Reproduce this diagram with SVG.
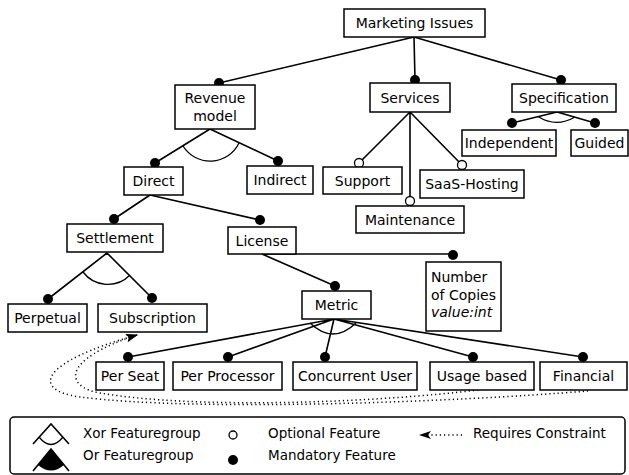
<svg xmlns="http://www.w3.org/2000/svg" width="629" height="475" viewBox="0 0 629 475">
<style>
.box{fill:#fff;stroke:#000;stroke-width:1.5}
text{font-family:"DejaVu Sans","Liberation Sans",sans-serif;font-size:14px;fill:#000}
.c{text-anchor:middle}
.ln{stroke:#000;stroke-width:1.6;fill:none}
.arc{stroke:#000;stroke-width:1.3;fill:none}
.m{fill:#000}
.o{fill:#fff;stroke:#000;stroke-width:1.3}
.req{stroke:#000;stroke-width:1.5;fill:none;stroke-dasharray:1.2 3}
.lg{font-size:13.5px}
</style>
<defs>
<marker id="arr" viewBox="0 0 12 8" refX="11" refY="4" markerWidth="12" markerHeight="8" markerUnits="userSpaceOnUse" orient="auto">
<path d="M0,0 L12,4 L0,8 L3,4 Z" fill="#000"/>
</marker>
</defs>
<rect x="0" y="0" width="629" height="475" fill="#fff"/>
<g id="connectors">
<path class="ln" d="M414,37 L219,83 M414,37 L415,80 M414,37 L561,80"/>
<path class="ln" d="M210,129 L155,163 M210,129 L278,161"/>
<path class="arc" d="M183,146 A32,32 0 0 0 239,143"/>
<path class="ln" d="M410,112 L359,163 M410,112 L410,201 M410,112 L462,165"/>
<path class="ln" d="M557,112 L512,123 M557,112 L595,123"/>
<path class="arc" d="M538,116.5 Q556,128 575,117"/>
<path class="ln" d="M150,195 L114,219 M150,195 L260,220"/>
<path class="ln" d="M107,253 L48,299 M107,253 L152,298"/>
<path class="arc" d="M83,272 A31,31 0 0 0 130,275"/>
<path class="ln" d="M262,254 L335,286 M262,254 L453,254"/>
<path class="ln" d="M334,319 L128,357 M334,319 L228,357 M334,319 L325,357 M334,319 L473,357 M334,319 L583,357"/>
<path class="arc" d="M310,323 Q333,345 356,323"/>
<path class="req" d="M588,391 C450,402 200,412 80,397 C30,390 40,362 137,335" marker-end="url(#arr)"/>
<path class="req" d="M478,390 C380,402 200,410 100,393 C65,387 60,360 137,335" marker-end="url(#arr)"/>
<circle class="m" cx="219" cy="83" r="5"/>
<circle class="m" cx="415" cy="80" r="5"/>
<circle class="m" cx="561" cy="80" r="5"/>
<circle class="m" cx="155" cy="163" r="5"/>
<circle class="m" cx="278" cy="161" r="5"/>
<circle class="m" cx="512" cy="123" r="5"/>
<circle class="m" cx="595" cy="123" r="5"/>
<circle class="o" cx="359" cy="163" r="4.5"/>
<circle class="o" cx="410" cy="201" r="4.5"/>
<circle class="o" cx="462" cy="165" r="4.5"/>
<circle class="m" cx="114" cy="219" r="5"/>
<circle class="m" cx="260" cy="220" r="5"/>
<circle class="m" cx="48" cy="299" r="5"/>
<circle class="m" cx="152" cy="298" r="5"/>
<circle class="m" cx="335" cy="286" r="5"/>
<circle class="m" cx="453" cy="255" r="5"/>
<circle class="m" cx="128" cy="357" r="5"/>
<circle class="m" cx="228" cy="357" r="5"/>
<circle class="m" cx="325" cy="357" r="5"/>
<circle class="m" cx="473" cy="357" r="5"/>
<circle class="m" cx="583" cy="357" r="5"/>
</g>
<g id="marketing-issues"><rect class="box" x="344" y="9" width="141" height="28"/><text class="c" x="414.5" y="28">Marketing Issues</text></g>
<g id="revenue-model"><rect class="box" x="175" y="85" width="80" height="44"/><text class="c" x="215" y="103">Revenue</text><text class="c" x="215" y="121">model</text></g>
<g id="services"><rect class="box" x="370" y="83" width="80" height="29"/><text class="c" x="410" y="103">Services</text></g>
<g id="specification"><rect class="box" x="512" y="84" width="104" height="28"/><text class="c" x="564" y="103">Specification</text></g>
<g id="independent"><rect class="box" x="462" y="130" width="94" height="26"/><text class="c" x="509" y="148">Independent</text></g>
<g id="guided"><rect class="box" x="571" y="130" width="57" height="26"/><text class="c" x="599.5" y="148">Guided</text></g>
<g id="direct"><rect class="box" x="124" y="167" width="59" height="28"/><text class="c" x="153.5" y="186">Direct</text></g>
<g id="indirect"><rect class="box" x="247" y="166" width="66" height="28"/><text class="c" x="280" y="185">Indirect</text></g>
<g id="support"><rect class="box" x="323" y="167" width="79" height="27"/><text class="c" x="362.5" y="186">Support</text></g>
<g id="maintenance"><rect class="box" x="356" y="206" width="108" height="27"/><text class="c" x="410" y="225">Maintenance</text></g>
<g id="saas-hosting"><rect class="box" x="420" y="170" width="104" height="28"/><text class="c" x="472" y="189">SaaS-Hosting</text></g>
<g id="settlement"><rect class="box" x="67" y="224" width="96" height="28"/><text class="c" x="115" y="243">Settlement</text></g>
<g id="license"><rect class="box" x="228" y="227" width="68" height="27"/><text class="c" x="262" y="246">License</text></g>
<g id="perpetual"><rect class="box" x="8" y="304" width="79" height="28"/><text class="c" x="47.5" y="323">Perpetual</text></g>
<g id="subscription"><rect class="box" x="98" y="304" width="109" height="28"/><text class="c" x="152.5" y="323">Subscription</text></g>
<g id="metric"><rect class="box" x="302" y="291" width="69" height="28"/><text class="c" x="336.5" y="310">Metric</text></g>
<g id="number-of-copies"><rect class="box" x="426" y="262" width="75" height="69"/><text x="431" y="282">Number</text><text x="431" y="300">of Copies</text><text x="431" y="317" font-style="italic">value:int</text></g>
<g id="per-seat"><rect class="box" x="96" y="362" width="68" height="28"/><text class="c" x="130" y="381">Per Seat</text></g>
<g id="per-processor"><rect class="box" x="173" y="362" width="109" height="28"/><text class="c" x="227.5" y="381">Per Processor</text></g>
<g id="concurrent-user"><rect class="box" x="293" y="362" width="124" height="28"/><text class="c" x="355" y="381">Concurrent User</text></g>
<g id="usage-based"><rect class="box" x="430" y="362" width="104" height="28"/><text class="c" x="482" y="381">Usage based</text></g>
<g id="financial"><rect class="box" x="540" y="362" width="87" height="28"/><text class="c" x="583.5" y="381">Financial</text></g>
<g id="legend">
<rect x="10" y="417" width="615" height="57" rx="4" fill="#fff" stroke="#000" stroke-width="1.5"/>
<path class="ln" d="M33,444 L51,424 L69,444"/>
<path class="arc" d="M39,437 Q51,452 63,437"/>
<path class="ln" d="M33,471 L51,449 L69,471"/>
<path d="M51,449 L38,465 Q51,476 64,465 Z" fill="#000"/>
<text class="lg" x="83" y="438">Xor Featuregroup</text>
<text class="lg" x="83" y="460">Or Featuregroup</text>
<circle class="o" cx="233" cy="435" r="4"/>
<circle class="m" cx="233" cy="460" r="5"/>
<text class="lg" x="268" y="438">Optional Feature</text>
<text class="lg" x="268" y="460">Mandatory Feature</text>
<path class="req" d="M462,435 L420,435" marker-end="url(#arr)"/>
<text class="lg" x="473" y="438">Requires Constraint</text>
</g>
</svg>
